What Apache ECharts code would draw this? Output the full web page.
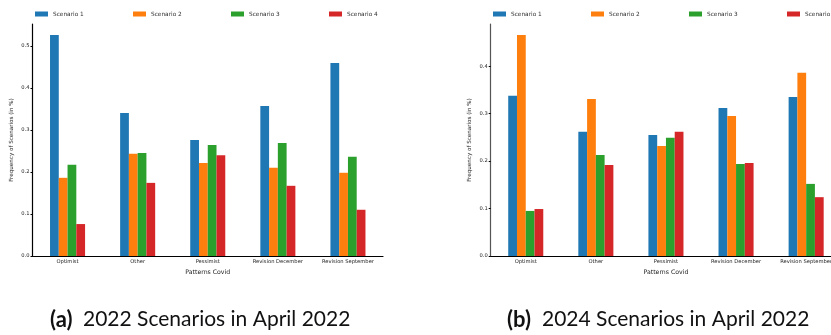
<!DOCTYPE html>
<html>
<head>
<meta charset="utf-8">
<script src="https://cdn.jsdelivr.net/npm/echarts@6/dist/echarts.min.js"></script>
<style>
  html, body { margin: 0; padding: 0; background: #fff; }
  #chart { width: 831px; height: 335px; }
</style>
</head>
<body>
<div id="chart"></div>
<script>
// Patterns of Covid scenarios and how often each scenario appears
const categories = ['Optimist', 'Other', 'Pessimist', 'Revision December', 'Revision September'];
const scenarioNames = ['Scenario 1', 'Scenario 2', 'Scenario 3', 'Scenario 4'];
const colors = ['#1f77b4', '#ff7f0e', '#2ca02c', '#d62728'];

// (a) 2022 scenarios, one array per scenario, in category order
const s2022_1 = [0.526, 0.340, 0.276, 0.357, 0.459];
const s2022_2 = [0.186, 0.243, 0.221, 0.210, 0.198];
const s2022_3 = [0.217, 0.245, 0.264, 0.269, 0.236];
const s2022_4 = [0.076, 0.174, 0.240, 0.167, 0.110];

// (b) 2024 scenarios
const s2024_1 = [0.338, 0.262, 0.255, 0.312, 0.335];
const s2024_2 = [0.466, 0.331, 0.232, 0.295, 0.386];
const s2024_3 = [0.095, 0.213, 0.249, 0.194, 0.152];
const s2024_4 = [0.099, 0.192, 0.262, 0.196, 0.124];

const yTicks = [0, 0.1, 0.2, 0.3, 0.4, 0.5];
const captionA = ['(a)', '2022 Scenarios in April 2022'];
const captionB = ['(b)', '2024 Scenarios in April 2022'];

const tickFont = { fontFamily: 'DejaVu Sans', fontSize: 5.2, color: '#222' };
const captionFont = '"Lato", "Liberation Sans", sans-serif';

function xAxisFor(gridIndex) {
  return {
    type: 'category', gridIndex, data: categories,
    name: 'Patterns Covid', nameLocation: 'middle', nameGap: 11,
    nameTextStyle: { fontFamily: 'DejaVu Sans', fontSize: 6.2, color: '#222' },
    axisLine: { lineStyle: { color: '#000', width: 1.2 } },
    axisTick: { alignWithLabel: true, length: 2, lineStyle: { color: '#000' } },
    axisLabel: Object.assign({ margin: 3, interval: 0 }, tickFont),
    splitLine: { show: false }
  };
}

function yAxisFor(gridIndex, max, lineColor) {
  return {
    type: 'value', gridIndex, min: 0, max,
    name: 'Frequency of Scenarios (in %)', nameLocation: 'middle', nameGap: 18, nameRotate: 90,
    nameTextStyle: { fontFamily: 'DejaVu Sans', fontSize: 5.6, color: '#222' },
    axisLine: { show: true, lineStyle: { color: lineColor, width: 1.2 } },
    axisTick: { show: true, length: 2, customValues: yTicks, lineStyle: { color: '#000' } },
    axisLabel: Object.assign({ margin: 3, customValues: yTicks, formatter: v => v.toFixed(1) }, tickFont),
    splitLine: { show: false }
  };
}

function seriesFor(gridIndex, arrays) {
  return arrays.map((data, i) => ({
    type: 'bar', name: scenarioNames[i], data,
    xAxisIndex: gridIndex, yAxisIndex: gridIndex,
    itemStyle: { color: colors[i] },
    barGap: '0%', barCategoryGap: '50%',
    emphasis: { disabled: true }
  }));
}

// one legend entry per component so that the entries sit on a fixed pitch
function legendsFrom(startX) {
  return scenarioNames.map((name, i) => ({
    left: startX + i * 98, top: 11, padding: 0,
    itemWidth: 13, itemHeight: 5, itemGap: 0, icon: 'rect', data: [name],
    textStyle: { fontFamily: 'DejaVu Sans', fontSize: 5.8, color: '#333' },
    selectedMode: false
  }));
}

const chart = echarts.init(document.getElementById('chart'), null, { renderer: 'canvas' });
chart.setOption({
  animation: false,
  color: colors,
  legend: [...legendsFrom(35), ...legendsFrom(493)],
  grid: [
    { left: 32.5, top: 24, width: 350.5, height: 232, outerBoundsMode: 'none' },
    { left: 490.7, top: 24, width: 350.5, height: 232, outerBoundsMode: 'none' }
  ],
  xAxis: [xAxisFor(0), xAxisFor(1)],
  yAxis: [yAxisFor(0, 0.552, '#000'), yAxisFor(1, 0.489, '#555')],
  series: [
    ...seriesFor(0, [s2022_1, s2022_2, s2022_3, s2022_4]),
    ...seriesFor(1, [s2024_1, s2024_2, s2024_3, s2024_4])
  ],
  graphic: [
    { type: 'text', left: 50, top: 309, style: { text: captionA[0], font: 'bold 22px ' + captionFont, fill: '#111' } },
    { type: 'text', left: 83, top: 309, style: { text: captionA[1], font: '21px ' + captionFont, fill: '#111' } },
    { type: 'text', left: 507, top: 309, style: { text: captionB[0], font: 'bold 22px ' + captionFont, fill: '#111' } },
    { type: 'text', left: 542, top: 309, style: { text: captionB[1], font: '21px ' + captionFont, fill: '#111' } }
  ]
});
</script>
</body>
</html>
